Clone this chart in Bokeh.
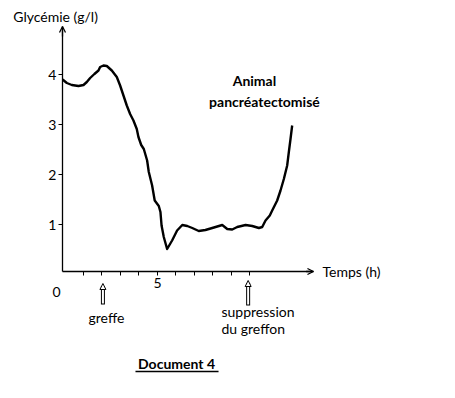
from bokeh.plotting import figure
from bokeh.models import Label, Arrow, OpenHead, NormalHead, FixedTicker, Range1d
from bokeh.embed import file_html
from bokeh.resources import INLINE

# Data (time in hours, glycemia in g/l)
hours = [-0.13, 0.10, 0.37, 0.73, 1.00, 1.18, 1.36, 1.59, 1.81, 1.90, 2.08, 2.26, 2.53, 2.80,
         2.98, 3.16, 3.34, 3.52, 3.70, 3.88, 3.97, 4.12, 4.26, 4.44, 4.53, 4.71, 4.85, 5.07,
         5.16, 5.22, 5.34, 5.52, 5.79, 6.06, 6.34, 6.61, 6.88, 7.23, 7.59, 7.96, 8.50, 8.77,
         9.04, 9.31, 9.76, 10.12, 10.48, 10.66, 10.84, 11.07, 11.20, 11.47, 11.65, 11.83,
         12.01, 12.10, 12.19, 12.28]
glycemia = [3.90, 3.83, 3.79, 3.77, 3.79, 3.85, 3.93, 4.01, 4.08, 4.15, 4.18, 4.17, 4.08, 3.95,
            3.78, 3.58, 3.38, 3.21, 3.08, 2.91, 2.75, 2.59, 2.51, 2.28, 2.05, 1.78, 1.48, 1.37,
            1.25, 0.98, 0.75, 0.51, 0.68, 0.88, 0.99, 0.97, 0.93, 0.87, 0.89, 0.93, 0.99, 0.91,
            0.90, 0.95, 0.99, 0.97, 0.93, 0.95, 1.08, 1.18, 1.28, 1.48, 1.68, 1.91,
            2.18, 2.45, 2.71, 2.98]
y_ticks = [1, 2, 3, 4]
x_ticks = [1, 2, 3, 4, 5, 6, 7, 8, 9, 10]
x_labelled = {5: "5"}
event_hours = [2.05, 9.9]

# axis extents (data units)
X0, X1 = -0.135, 13.43
Y0, Y1 = 0.06, 4.96

FONT = "Lato"
FS = "14px"

p = figure(width=447, height=390, x_range=Range1d(-3.486, 20.676), y_range=Range1d(-2.32, 5.48),
           output_backend="svg", toolbar_location=None,
           min_border_left=0, min_border_right=0, min_border_top=0, min_border_bottom=0)
p.title.visible = False
p.outline_line_color = None
p.grid.visible = False

p.line(hours, glycemia, line_color="black", line_width=2.4, line_join="round")

ya = p.yaxis[0]
ya.fixed_location = X0
ya.bounds = (Y0, Y1)
ya.ticker = FixedTicker(ticks=y_ticks)
ya.major_tick_out = 4
ya.major_tick_in = 0
ya.minor_tick_out = 0
ya.minor_tick_in = 0
ya.major_label_standoff = 2
ya.major_label_text_font = FONT
ya.major_label_text_font_size = FS
ya.major_label_text_color = "black"
ya.axis_line_width = 1.3

xa = p.xaxis[0]
xa.fixed_location = Y0
xa.bounds = (X0, X1)
xa.ticker = FixedTicker(ticks=x_ticks)
xa.major_label_overrides = {t: x_labelled.get(t, "") for t in x_ticks}
xa.major_tick_out = 4
xa.major_tick_in = 0
xa.minor_tick_out = 0
xa.minor_tick_in = 0
xa.major_label_standoff = 2
xa.major_label_text_font = FONT
xa.major_label_text_font_size = FS
xa.major_label_text_color = "black"
xa.axis_line_width = 1.3

# axis arrowheads
p.add_layout(Arrow(x_start=X0, y_start=Y1 - 0.2, x_end=X0, y_end=Y1, line_width=1.3,
                   end=OpenHead(size=6, line_width=1.3)))
p.add_layout(Arrow(x_start=X1 - 0.4, y_start=Y0, x_end=X1, y_end=Y0, line_width=1.3,
                   end=OpenHead(size=6, line_width=1.3)))

def lab(x, y, t, align="center", bold=False):
    p.add_layout(Label(x=x, y=y, text=t, text_align=align, text_baseline="middle",
                       text_font=FONT, text_font_size=FS, text_color="black",
                       text_font_style="bold" if bold else "normal"))

lab(-0.51, 5.16, "Glycémie (g/l)")
lab(13.92, 0.06, "Temps (h)", align="left")
lab(-0.46, -0.34, "0")
lab(2.24, -0.86, "greffe")
lab(8.46, -0.74, "suppression", align="left")
lab(8.46, -1.08, "du greffon", align="left")
lab(10.24, 3.88, "Animal", bold=True)
lab(10.78, 3.46, "pancréatectomisé", bold=True)
lab(6.03, -1.78, "Document 4", bold=True)
p.add_layout(Arrow(x_start=3.81, y_start=-1.94, x_end=8.30, y_end=-1.94, line_width=1.3, end=None))

# hollow event arrows
for h, (yb, yt) in zip(event_hours, [(-0.60, -0.18), (-0.62, -0.12)]):
    p.add_layout(Arrow(x_start=h, y_start=yb, x_end=h, y_end=yt - 0.05, line_width=4, line_color="black", end=None))
    p.add_layout(Arrow(x_start=h, y_start=yb + 0.02, x_end=h, y_end=yt - 0.05, line_width=2, line_color="white", end=None))
    p.add_layout(Arrow(x_start=h, y_start=yt - 0.1, x_end=h, y_end=yt, line_width=0,
                       end=NormalHead(size=6, fill_color="white", line_color="black", line_width=1)))

open("out.html", "w").write(file_html(p, INLINE))
